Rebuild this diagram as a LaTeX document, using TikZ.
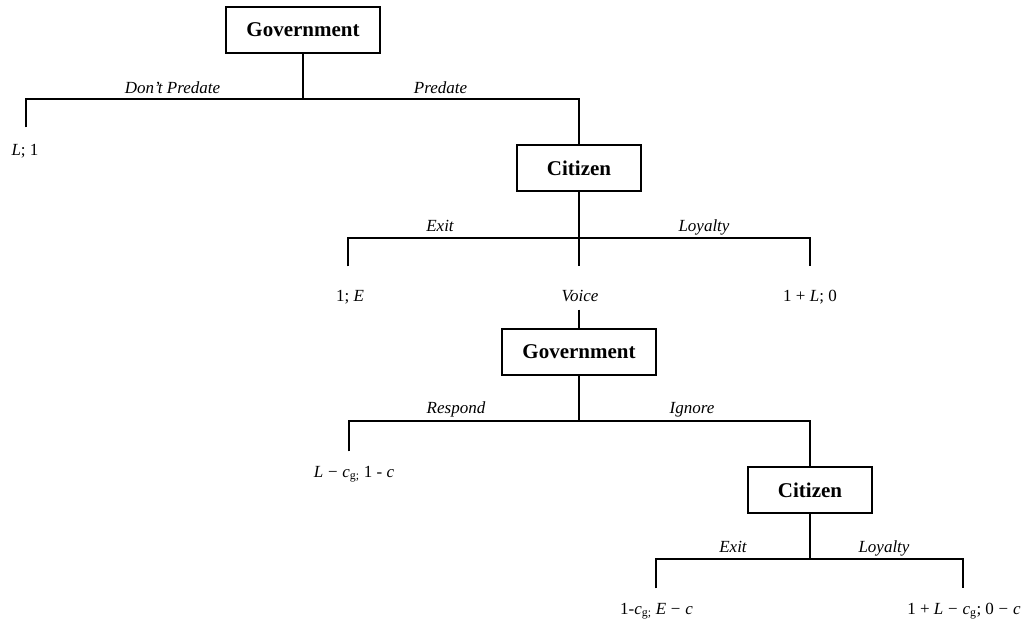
\documentclass[tikz,border=0pt]{standalone}
\usepackage{fontspec}
\setmainfont{Liberation Serif}
\newcommand{\minus}{\kern0.5pt−\kern0.5pt}
\begin{document}
\begin{tikzpicture}[x=1pt,y=-1pt,
  line width=1.4pt,
  player/.style={draw, line width=1.4pt, minimum height=46pt, inner sep=0pt,
    font=\fontsize{21}{24}\selectfont\bfseries},
  move/.style={anchor=base, inner sep=0pt, font=\fontsize{17}{20}\selectfont\itshape},
  payoff/.style={anchor=base, inner xsep=0pt, inner ysep=0pt, text depth=0pt,
    font=\fontsize{17}{20}\selectfont}]
\path[use as bounding box] (0,0) rectangle (1021,622);
% players
\node[player, minimum width=154pt] (g1) at (303,30) {Government};
\node[player, minimum width=124pt] (c1) at (579,168) {Citizen};
\node[player, minimum width=154pt] (g2) at (579,352) {Government};
\node[player, minimum width=124pt] (c2) at (810,490) {Citizen};
% branch points
\coordinate (h1m) at (303,99); \coordinate (h1l) at (26,99); \coordinate (h1r) at (579,99);
\coordinate (h2m) at (579,238); \coordinate (h2l) at (348,238); \coordinate (h2r) at (810,238);
\coordinate (h3m) at (579,421); \coordinate (h3l) at (349,421); \coordinate (h3r) at (810,421);
\coordinate (h4m) at (810,559); \coordinate (h4l) at (656,559); \coordinate (h4r) at (963,559);
% payoffs
\node[payoff, text height=27pt] (p1) at (25,155) {\textit{L}; 1};
\node[payoff, text height=34pt] (p2) at (350,301) {1; \textit{E}};
\node[payoff, text height=34pt, text depth=8pt, font=\fontsize{17}{20}\selectfont\itshape] (voice) at (580,301) {Voice};
\node[payoff, text height=34pt] (p3) at (810,301) {1 + \textit{L}; 0};
\node[payoff, text height=25pt] (p4) at (354,477) {\textit{L} \minus\ \textit{c}\textsubscript{g;} 1 - \textit{c}};
\node[payoff, text height=25pt] (p5) at (656.5,614) {1-\textit{c}\textsubscript{g;} \textit{E} \minus\ \textit{c}};
\node[payoff, text height=25pt] (p6) at (964,614) {1 + \textit{L} \minus\ \textit{c}\textsubscript{g}; 0 \minus\ \textit{c}};
% moves
\node[move] (m1) at (172.5,93) {Don’t Predate};
\node[move] (m2) at (440.5,93) {Predate};
\node[move] (m3) at (440,231) {Exit};
\node[move] (m4) at (704,231) {Loyalty};
\node[move] (m5) at (456,413) {Respond};
\node[move] (m6) at (692,413) {Ignore};
\node[move] (m7) at (733,552) {Exit};
\node[move] (m8) at (884,552) {Loyalty};
% edges
\draw (g1.south) -- (h1m);
\draw (h1l |- p1.north) -- (h1l) -- (h1r) -- (c1.north);
\draw (c1.south) -- (h2m) -- (h2m |- voice.north);
\draw (h2l |- p2.north) -- (h2l) -- (h2r) -- (h2r |- p3.north);
\draw (h2m |- voice.south) -- (g2.north);
\draw (g2.south) -- (h3m);
\draw (h3l |- p4.north) -- (h3l) -- (h3r) -- (c2.north);
\draw (c2.south) -- (h4m);
\draw (h4l |- p5.north) -- (h4l) -- (h4r) -- (h4r |- p6.north);
\end{tikzpicture}
\end{document}
